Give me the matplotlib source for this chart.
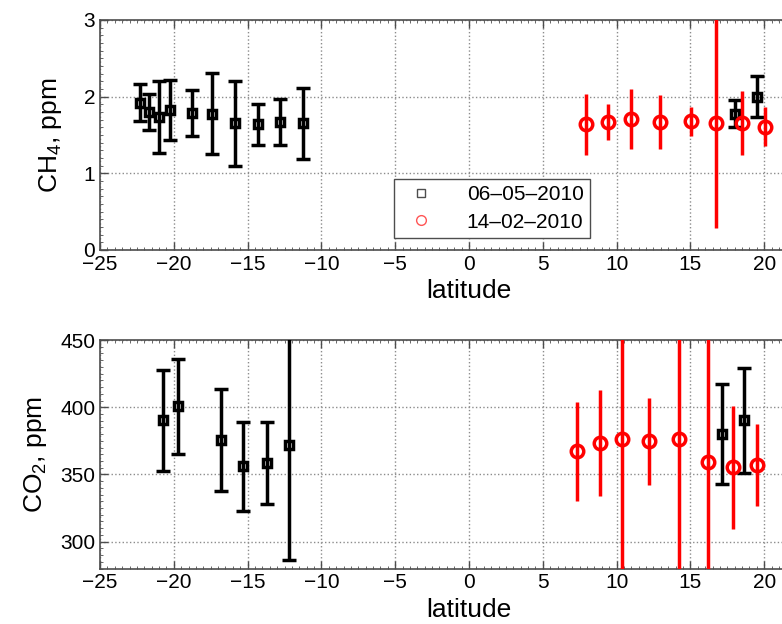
import matplotlib
matplotlib.use('Agg')
import matplotlib.pyplot as plt
from matplotlib.lines import Line2D
from matplotlib.ticker import MultipleLocator, AutoMinorLocator

plt.rcParams['font.family'] = ['Liberation Sans Narrow', 'Liberation Sans', 'DejaVu Sans']
plt.rcParams['mathtext.default'] = 'regular'

# CH4, 06-05-2010 (black squares)
ch4_lat_may = [-22.29, -21.66, -20.98, -20.26, -18.79, -17.43, -15.83, -14.30, -12.80, -11.22, 18.05, 19.54]
ch4_may = [1.92, 1.80, 1.73, 1.83, 1.79, 1.78, 1.65, 1.64, 1.67, 1.65, 1.78, 2.00]
ch4_err_may = [0.24, 0.23, 0.47, 0.39, 0.30, 0.53, 0.55, 0.27, 0.30, 0.46, 0.18, 0.27]

# CH4, 14-02-2010 (red circles)
ch4_lat_feb = [7.93, 9.44, 10.95, 12.94, 15.06, 16.73, 18.52, 20.06]
ch4_feb = [1.64, 1.67, 1.71, 1.67, 1.68, 1.66, 1.66, 1.61]
ch4_err_feb = [0.40, 0.24, 0.39, 0.35, 0.19, 1.37, 0.42, 0.25]

# CO2, 06-05-2010
co2_lat_may = [-20.75, -19.69, -16.83, -15.29, -13.71, -12.20, 17.17, 18.63]
co2_may = [390.3, 400.8, 375.6, 356.0, 358.5, 371.9, 380.3, 390.3]
co2_err_may = [37.4, 35.4, 37.8, 33.1, 30.2, 85.6, 37.2, 39.0]

# CO2, 14-02-2010
co2_lat_feb = [7.34, 8.88, 10.37, 12.20, 14.25, 16.17, 17.89, 19.54]
co2_feb = [367.2, 373.2, 376.4, 374.6, 376.0, 359.2, 355.2, 357.0]
co2_err_feb = [37.0, 39.4, 150.0, 32.2, 150.0, 150.0, 45.6, 30.2]

lat_ticks = [-25, -20, -15, -10, -5, 0, 5, 10, 15, 20]

fig = plt.figure(figsize=(7.82, 6.24), dpi=100)
ax1 = fig.add_axes([0.1279, 0.5994, 0.9437, 0.3686])
ax2 = fig.add_axes([0.1279, 0.0889, 0.9437, 0.3662])


def style(ax, ylab, ylim, ystep):
    ax.set_xlim(-25, 25)
    ax.set_ylim(*ylim)
    ax.set_xticks(lat_ticks)
    ax.yaxis.set_major_locator(MultipleLocator(ystep))
    ax.xaxis.set_minor_locator(AutoMinorLocator(10))
    ax.yaxis.set_minor_locator(AutoMinorLocator(10))
    ax.tick_params(which='both', direction='in', top=True, right=True,
                   labelsize=15, color='0.3')
    ax.tick_params(which='major', length=6, width=1)
    ax.tick_params(which='minor', length=2, width=0.6)
    ax.grid(True, which='major', linestyle=':', color='0.55', linewidth=1)
    for s in ax.spines.values():
        s.set_color('0.3')
        s.set_linewidth(1.2)
    ax.set_xlabel('latitude', fontsize=19, labelpad=4)
    ax.set_ylabel(ylab, fontsize=19, labelpad=14)


for ax, lm, vm, em, lf, vf, ef in [
        (ax1, ch4_lat_may, ch4_may, ch4_err_may, ch4_lat_feb, ch4_feb, ch4_err_feb),
        (ax2, co2_lat_may, co2_may, co2_err_may, co2_lat_feb, co2_feb, co2_err_feb)]:
    ax.errorbar(lm, vm, yerr=em, fmt='s', color='k', mfc='none', mec='k',
                ms=6, mew=2.5, elinewidth=2.5, capsize=5, capthick=2.5, zorder=3)
    ax.errorbar(lf, vf, yerr=ef, fmt='o', color='red', mfc='none', mec='red',
                ms=9, mew=2.5, elinewidth=2.5, capsize=0, zorder=4)

style(ax1, 'CH$_4$, ppm', (0, 3), 1)
style(ax2, 'CO$_2$, ppm', (280, 450), 50)
ax2.yaxis.labelpad = 8

handles = [Line2D([], [], ls='none', marker='s', mfc='none', mec='0.3', ms=6, mew=1),
           Line2D([], [], ls='none', marker='o', mfc='none', mec='#ff5555', ms=7, mew=1)]
ax1.legend(handles, ['06\u201305\u20132010', '14\u201302\u20132010'],
           loc='lower left', bbox_to_anchor=(0.398, 0.052), fontsize=15,
           frameon=True, fancybox=False, edgecolor='0.3', framealpha=1,
           borderpad=0.3, handletextpad=1.2, borderaxespad=0, labelspacing=0.4)

fig.savefig('out.png', dpi=100)
